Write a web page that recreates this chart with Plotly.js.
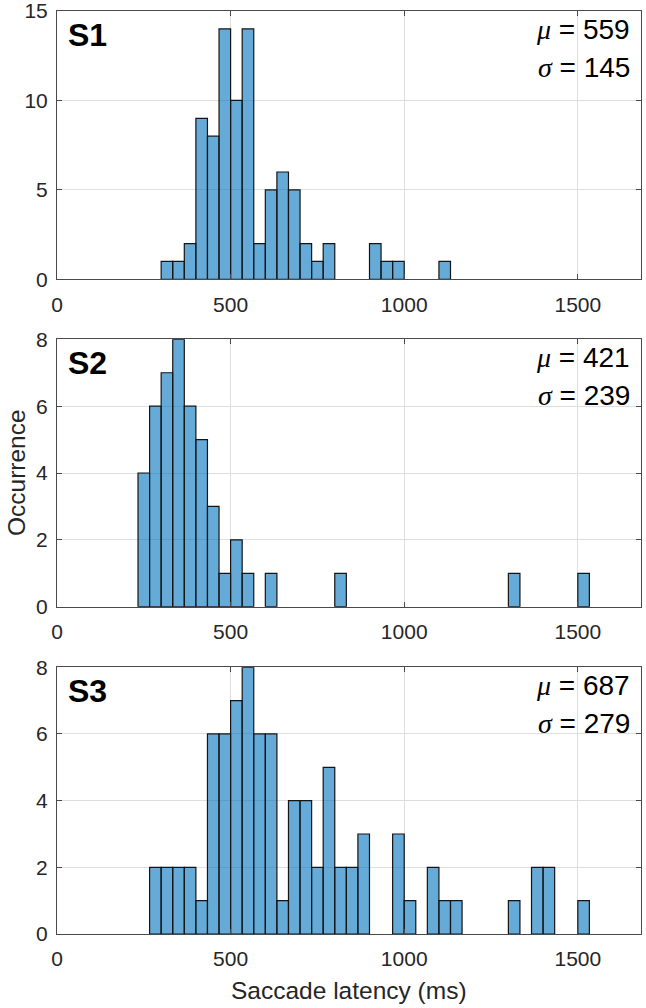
<!DOCTYPE html>
<html>
<head>
<meta charset="utf-8">
<script src="https://cdn.plot.ly/plotly-3.0.1.min.js"></script>
<style>html,body{margin:0;padding:0;background:#fff;}#chart{width:646px;height:1008px;}</style>
</head>
<body>
<div id="chart"></div>
<script>
// Histogram bin width (ms)
const binWidth = 33.333;

// S1: bin lower edges (ms) and counts
const s1Edges  = [300, 333.33, 366.67, 400, 433.33, 466.67, 500, 533.33, 566.67, 600, 633.33, 666.67, 700, 733.33, 766.67, 900, 933.33, 966.67, 1100];
const s1Counts = [1, 1, 2, 9, 8, 14, 10, 14, 2, 5, 6, 5, 2, 1, 2, 2, 1, 1, 1];

// S2
const s2Edges  = [233.33, 266.67, 300, 333.33, 366.67, 400, 433.33, 466.67, 500, 533.33, 600, 800, 1300, 1500];
const s2Counts = [4, 6, 7, 8, 6, 5, 3, 1, 2, 1, 1, 1, 1, 1];

// S3
const s3Edges  = [266.67, 300, 333.33, 366.67, 400, 433.33, 466.67, 500, 533.33, 566.67, 600, 633.33, 666.67, 700, 733.33, 766.67, 800, 833.33, 866.67, 966.67, 1000, 1066.67, 1100, 1133.33, 1300, 1366.67, 1400, 1500];
const s3Counts = [2, 2, 2, 2, 1, 6, 6, 7, 8, 6, 6, 1, 4, 4, 2, 5, 2, 2, 3, 3, 1, 2, 1, 1, 1, 2, 2, 1];

const panelLabels = ["S1", "S2", "S3"];
const means  = [559, 421, 687];
const sigmas = [145, 239, 279];

const xTicks = [0, 500, 1000, 1500];
const y1Ticks = [0, 5, 10, 15];
const y23Ticks = [0, 2, 4, 6, 8];
const xTitle = "Saccade latency (ms)";
const yTitle = "Occurrence";

const FONT = "Liberation Sans, Arial, Helvetica, sans-serif";
const AXC = "#262626";
const barFill = "rgba(0,114,189,0.6)";
const barEdge = "rgb(20,20,20)";

function barTrace(edges, counts, xa, ya) {
  return {
    type: "bar", x: edges, y: counts, width: binWidth, offset: 0,
    xaxis: xa, yaxis: ya,
    marker: { color: barFill, line: { color: barEdge, width: 1.2 } },
    hoverinfo: "x+y", showlegend: false
  };
}

const data = [
  barTrace(s1Edges, s1Counts, "x", "y"),
  barTrace(s2Edges, s2Counts, "x2", "y2"),
  barTrace(s3Edges, s3Counts, "x3", "y3")
];

function xAxis(domainAnchor) {
  return {
    anchor: domainAnchor, range: [0, 1682], tickvals: xTicks, ticktext: xTicks.map(String),
    showgrid: true, gridcolor: "#dedede", gridwidth: 1, zeroline: false,
    showline: true, linecolor: "#4a4a4a", linewidth: 1, mirror: "allticks",
    ticks: "inside", ticklen: 5, tickcolor: "#4a4a4a", tickwidth: 1,
    tickfont: { family: FONT, size: 21, color: AXC }, ticklabelstandoff: 6,
    fixedrange: true
  };
}
function yAxis(domain, maxv, ticks, anchor) {
  return {
    domain: domain, anchor: anchor, range: [0, maxv], tickvals: ticks, ticktext: ticks.map(String),
    showgrid: true, gridcolor: "#dedede", gridwidth: 1, zeroline: false,
    showline: true, linecolor: "#4a4a4a", linewidth: 1, mirror: "allticks",
    ticks: "inside", ticklen: 5, tickcolor: "#4a4a4a", tickwidth: 1,
    tickfont: { family: FONT, size: 21, color: AXC }, ticklabelstandoff: 4,
    ticklabeloverflow: "allow", fixedrange: true
  };
}

const yRefs = ["y domain", "y2 domain", "y3 domain"];
const xRefs = ["x domain", "x2 domain", "x3 domain"];
const annotations = [];
for (let i = 0; i < 3; i++) {
  annotations.push({
    xref: xRefs[i], yref: yRefs[i], x: 0, y: 1, xanchor: "left", yanchor: "middle",
    xshift: 9, yshift: -24, showarrow: false, text: "<b>" + panelLabels[i] + "</b>",
    font: { family: FONT, size: 32, color: "#000" }
  });
  annotations.push({
    xref: xRefs[i], yref: yRefs[i], x: 1, y: 1, xanchor: "right", yanchor: "middle",
    xshift: -9, yshift: -18, showarrow: false,
    text: "<span style=\"font-family:Liberation Serif\"><i>μ</i></span> = " + means[i],
    font: { family: FONT, size: 28, color: "#000" }
  });
  annotations.push({
    xref: xRefs[i], yref: yRefs[i], x: 1, y: 1, xanchor: "right", yanchor: "middle",
    xshift: -9, yshift: -56, showarrow: false,
    text: "<span style=\"font-family:Liberation Serif\"><i>σ</i></span> = " + sigmas[i],
    font: { family: FONT, size: 28, color: "#000" }
  });
}
annotations.push({
  xref: "paper", yref: "y2 domain", x: 0, y: 0.5, xanchor: "center", yanchor: "middle",
  xshift: -41, yshift: 0, showarrow: false, textangle: -90, text: yTitle,
  font: { family: FONT, size: 24.5, color: AXC }
});
annotations.push({
  xref: "paper", yref: "paper", x: 0.5, y: 0, xanchor: "center", yanchor: "middle",
  yshift: -56, showarrow: false, text: xTitle,
  font: { family: FONT, size: 24.5, color: AXC }
});

const layout = {
  width: 646, height: 1008,
  margin: { l: 57, r: 5, t: 11, b: 74 },
  paper_bgcolor: "#fff", plot_bgcolor: "#fff",
  bargap: 0,
  xaxis: xAxis("y"),
  xaxis2: xAxis("y2"),
  xaxis3: xAxis("y3"),
  yaxis: yAxis([0.7093, 1.0], 15.001, y1Ticks, "x"),
  yaxis2: yAxis([0.3546, 0.6443], 8.001, y23Ticks, "x2"),
  yaxis3: yAxis([0, 0.2890], 8.001, y23Ticks, "x3"),
  annotations: annotations,
  font: { family: FONT }
};

Plotly.newPlot("chart", data, layout, { displayModeBar: false, staticPlot: true });
</script>
</body>
</html>
